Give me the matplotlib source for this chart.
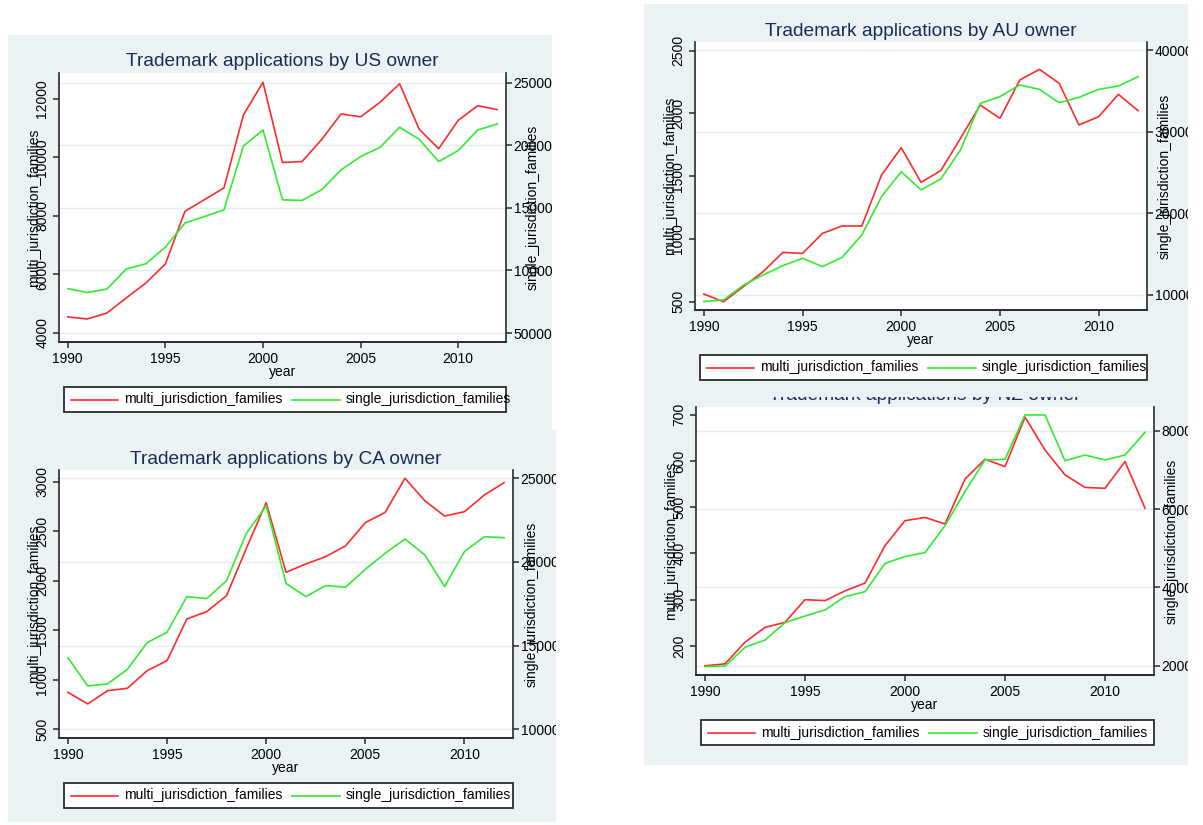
import matplotlib
matplotlib.use("Agg")
import matplotlib.pyplot as plt
from matplotlib.patches import Rectangle
from matplotlib.transforms import blended_transform_factory

plt.rcParams["font.family"] = ["Liberation Sans", "DejaVu Sans"]

# Data
years = [1990, 1991, 1992, 1993, 1994, 1995, 1996, 1997, 1998, 1999, 2000, 2001,
         2002, 2003, 2004, 2005, 2006, 2007, 2008, 2009, 2010, 2011, 2012]

us_multi = [4550, 4480, 4680, 5200, 5710, 6360, 8160, 8560, 8960, 11460, 12570, 9830,
            9860, 10610, 11490, 11390, 11890, 12520, 10970, 10300, 11270, 11770, 11640]
us_single = [85400, 82400, 85100, 101100, 105300, 118600, 137800, 143100, 148400, 199500,
             212200, 156400, 155900, 164400, 180300, 191000, 198400, 214400, 204800,
             187000, 195700, 212200, 217000]

au_multi = [561, 500, 620, 739, 893, 885, 1044, 1103, 1103, 1509, 1727, 1451,
            1544, 1801, 2067, 1961, 2266, 2351, 2240, 1908, 1974, 2152, 2022]
au_single = [9200, 9400, 11200, 12450, 13600, 14500, 13470, 14600, 17350, 22040, 25100,
             22860, 24200, 27750, 33470, 34290, 35710, 35180, 33550, 34200, 35180,
             35590, 36730]

ca_multi = [873, 756, 890, 914, 1092, 1193, 1614, 1688, 1849, 2327, 2788, 2085,
            2169, 2243, 2351, 2586, 2690, 3034, 2808, 2653, 2697, 2865, 2990]
ca_single = [14280, 12590, 12710, 13590, 15180, 15800, 17930, 17810, 18880, 21710, 23350,
             18720, 17930, 18590, 18490, 19560, 20520, 21370, 20420, 18530, 20620,
             21510, 21450]

nz_multi = [157, 161, 208, 240, 251, 300, 298, 319, 336, 417, 471, 478,
            464, 561, 604, 588, 695, 624, 570, 543, 541, 599, 498]
nz_single = [1975, 1990, 2470, 2655, 3100, 3270, 3425, 3765, 3890, 4615, 4790, 4890,
             5580, 6450, 7260, 7275, 8410, 8410, 7240, 7385, 7260, 7385, 7965]

W, H = 1203, 825
BG = "#eaf2f3"
TITLE_C = "#1c2b55"
RED = "#ff2a2a"
GREEN = "#33ea33"
AXC = "#2b2b2b"
GRID = "#e3ecef"

fig = plt.figure(figsize=(W / 100, H / 100), dpi=100)


def box(l, t, r, b):
    return [l / W, 1 - b / H, (r - l) / W, (b - t) / H]


def panel(bg_px, plot_px, title, multi, single, ylim1, ticks1, ylim2, ticks2, roff):
    l, t, r, b = plot_px
    pw, ph = r - l, b - t
    ft = fig.transFigure

    bg = fig.add_axes(box(*bg_px))
    bg.set_facecolor(BG)
    bg.set_xticks([])
    bg.set_yticks([])
    for s in bg.spines.values():
        s.set_visible(False)

    bg.text((l + r) / 2 / W, 1 - (t - 11) / H, title, transform=ft,
            ha="center", va="center", fontsize=13.8, color=TITLE_C)

    # legend drawn by hand, Stata style
    bl, bt, bb = l + 5, b + 45, b + 70
    bg.add_patch(Rectangle((bl / W, 1 - bb / H), (r - bl) / W, (bb - bt) / H,
                           transform=ft, facecolor="white", edgecolor=AXC, lw=1.3))
    ym = 1 - (bt + bb) / 2 / H
    bg.plot([(bl + 7) / W, (bl + 54) / W], [ym, ym], transform=ft, color=RED, lw=1.2)
    bg.text((bl + 60) / W, ym, "multi_jurisdiction_families", transform=ft,
            ha="left", va="center", fontsize=10)
    bg.plot([(bl + 228) / W, (bl + 276) / W], [ym, ym], transform=ft, color=GREEN, lw=1.2)
    bg.text((bl + 282) / W, ym, "single_jurisdiction_families", transform=ft,
            ha="left", va="center", fontsize=10)

    ax = fig.add_axes(box(*plot_px))
    ax2 = ax.twinx()
    ax.set_facecolor("white")

    # gridlines at right-axis ticks, behind both lines
    tr = blended_transform_factory(ax.transAxes, ax2.transData)
    for v in ticks2:
        ax.plot([0, 1], [v, v], transform=tr, color=GRID, lw=1.0, zorder=0)

    ax.plot(years, multi, color=RED, lw=1.2)
    ax2.plot(years, single, color=GREEN, lw=1.2)

    ax.set_xlim(1989.55, 2012.45)
    ax.set_ylim(*ylim1)
    ax2.set_ylim(*ylim2)
    ax.set_xticks([1990, 1995, 2000, 2005, 2010])
    ax.set_yticks(ticks1, labels=[str(v) for v in ticks1])
    ax2.set_yticks(ticks2, labels=[str(v) for v in ticks2])

    for a in (ax, ax2):
        a.spines["top"].set_visible(False)
        for s in ("left", "right", "bottom"):
            a.spines[s].set_color(AXC)
            a.spines[s].set_linewidth(1.2)
        a.tick_params(colors=AXC, labelcolor="black", width=1.1, length=4.5, labelsize=10)
    ax.spines["right"].set_visible(False)
    ax2.spines["left"].set_visible(False)
    ax.tick_params(axis="x", pad=2.5)
    ax.tick_params(axis="y", pad=2.5, labelrotation=90)
    for lab in ax.get_yticklabels():
        lab.set_va("center")
    ax2.tick_params(axis="y", pad=1)
    for lab in ax2.get_yticklabels():
        lab.set_clip_box(bg.bbox)
        lab.set_clip_on(True)

    ax.set_xlabel("year", fontsize=10)
    ax.xaxis.set_label_coords(0.5, -30 / ph)
    ax.xaxis.label.set_va("center")

    ax.set_ylabel("multi_jurisdiction_families", fontsize=10)
    ax.yaxis.set_label_coords(-25 / pw, 0.5)
    ax2.set_ylabel("single_jurisdiction_families", fontsize=10)
    ax2.yaxis.set_label_coords((pw + roff) / pw, 0.5)
    for lab in (ax.yaxis.label, ax2.yaxis.label):
        lab.set_rotation(90)
        lab.set_va("center")
        lab.set_ha("center")


# NZ first so that the AU panel background hides most of its title
panel((644, 385, 1188, 765), (696, 407, 1154, 675), "Trademark applications by NZ owner",
      nz_multi, nz_single, (137, 717), [200, 300, 400, 500, 600, 700],
      (1762, 8613), [2000, 4000, 6000, 8000], 18)
panel((8, 430, 556, 822), (59, 470, 513, 738), "Trademark applications by CA owner",
      ca_multi, ca_single, (412, 3118), [500, 1000, 1500, 2000, 2500, 3000],
      (9480, 25496), [10000, 15000, 20000, 25000], 19)
panel((8, 35, 552, 430), (59, 73, 506, 342), "Trademark applications by US owner",
      us_multi, us_single, (3692, 12889), [4000, 6000, 8000, 10000, 12000],
      (42809, 257750), [50000, 100000, 150000, 200000, 250000], 27)
panel((644, 4, 1188, 397), (695, 42, 1147, 310), "Trademark applications by AU owner",
      au_multi, au_single, (434, 2569), [500, 1000, 1500, 2000, 2500],
      (8163, 40980), [10000, 20000, 30000, 40000], 18)

fig.savefig("out.png", dpi=100, facecolor="white")
